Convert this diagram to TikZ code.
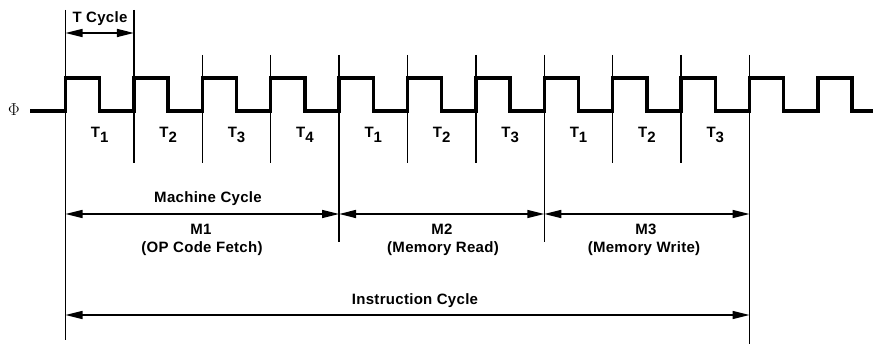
\documentclass[tikz,border=0pt]{standalone}
\usepackage{fontspec}
\setmainfont{Liberation Sans}[LetterSpace=2.0]
\usetikzlibrary{arrows.meta}
\newcommand\tlab[1]{T\raisebox{-5pt}{#1}}
\begin{document}
\begin{tikzpicture}[x=1pt,y=-1pt,
  clock/.style={line width=3.3pt,line join=miter,line cap=butt},
  vline/.style={line width=1.5pt},
  dim/.style={line width=1.5pt,{Triangle[length=17pt,width=8pt]}-{Triangle[length=17pt,width=8pt]}},
  lab/.style={font=\fontsize{15}{18}\selectfont\bfseries,inner sep=0pt,anchor=base},
]
\useasboundingbox (0,0) rectangle (875,344);

% phi label and lead line
\node[inner sep=0pt,font=\fontsize{17}{19}\selectfont] (phi) at (14,110) {$\Phi$};
\coordinate (lead) at (30,111);
\draw[clock] (lead) -- (65.5,111)
  \foreach \i in {0,...,11} {
    -- ({65.5+68.4*\i},111) -- ({65.5+68.4*\i},78)
    -- ({65.5+68.4*\i+34.2},78) -- ({65.5+68.4*\i+34.2},111)
  } -- (873,111);

% vertical reference lines
\coordinate (v0t) at (65.5,10);   \coordinate (v0b) at (65.5,340);
\coordinate (v1t) at (133.9,10);  \coordinate (v1b) at (133.9,163);
\draw[vline] (v0t) -- (v0b);
\draw[vline] (v1t) -- (v1b);
\foreach \i in {2,3,5,6,8,9} {
  \draw[vline] ({65.5+68.4*\i},55) -- ({65.5+68.4*\i},163);
}
\coordinate (v4t) at (339.1,55);  \coordinate (v4b) at (339.1,242);
\coordinate (v7t) at (544.3,55);  \coordinate (v7b) at (544.3,242);
\coordinate (v10t) at (749.5,55); \coordinate (v10b) at (749.5,344);
\draw[vline] (v4t) -- (v4b);
\draw[vline] (v7t) -- (v7b);
\draw[vline] (v10t) -- (v10b);

% T cycle
\node[lab] (tcyc) at (100,23) {T Cycle};
\coordinate (tc1) at (65.5,33); \coordinate (tc2) at (133.9,33);
\draw[dim] (tc1) -- (tc2);

% T labels
\foreach \n/\t in {0/1,1/2,2/3,3/4,4/1,5/2,6/3,7/1,8/2,9/3} {
  \node[lab] (t\n) at ({65.5+68.4*\n+34.2},138) {\tlab{\t}};
}

% machine cycles
\node[lab] (mc) at (208,203) {Machine Cycle};
\coordinate (ma) at (65.5,214);
\coordinate (mb) at (339.1,214);
\coordinate (mcc) at (544.3,214);
\coordinate (md) at (749.5,214);
\draw[dim] (ma) -- (mb);
\draw[dim] (mb) -- (mcc);
\draw[dim] (mcc) -- (md);
\node[lab] (m1) at (201,235) {M1};
\node[lab] (m1d) at (202,253) {(OP Code Fetch)};
\node[lab] (m2) at (442,235) {M2};
\node[lab] (m2d) at (443,253) {(Memory Read)};
\node[lab] (m3) at (646,235) {M3};
\node[lab] (m3d) at (644,253) {(Memory Write)};

% instruction cycle
\node[lab] (ic) at (415,305) {Instruction Cycle};
\coordinate (ia) at (65.5,315);
\coordinate (ib) at (749.5,315);
\draw[dim] (ia) -- (ib);
\end{tikzpicture}
\end{document}
